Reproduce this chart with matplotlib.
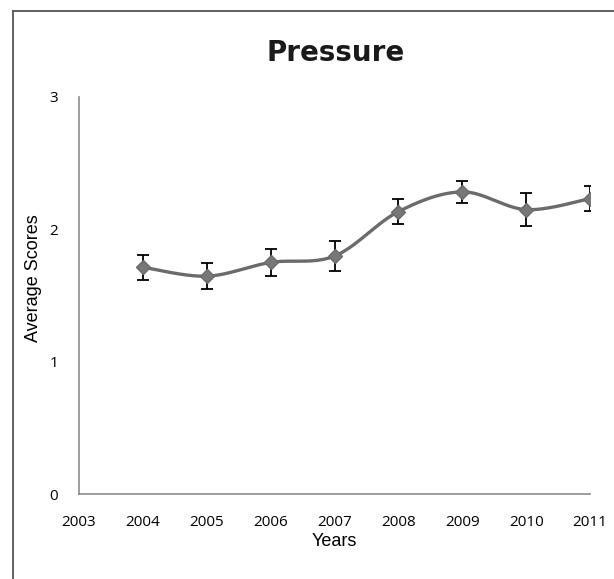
import matplotlib
matplotlib.use("Agg")
import matplotlib.pyplot as plt
import numpy as np
from matplotlib.lines import Line2D

years = [2004, 2005, 2006, 2007, 2008, 2009, 2010, 2011]
avg_scores = [1.714, 1.646, 1.750, 1.798, 2.134, 2.283, 2.149, 2.232]
std_err = [0.095, 0.100, 0.100, 0.113, 0.095, 0.085, 0.122, 0.096]
x_ticks = [2003, 2004, 2005, 2006, 2007, 2008, 2009, 2010, 2011]
y_ticks = [0, 1, 2, 3]


def smooth_curve(xs, ys, steps=40):
    # Catmull-Rom style smoothing (same as a spreadsheet "smoothed line")
    xs = np.asarray(xs, float)
    ys = np.asarray(ys, float)
    px = np.concatenate([[xs[0]], xs, [xs[-1]]])
    py = np.concatenate([[ys[0]], ys, [ys[-1]]])
    out_x, out_y = [], []
    t = np.linspace(0, 1, steps)
    for i in range(1, len(px) - 2):
        p0 = np.array([px[i], py[i]])
        p1 = np.array([px[i + 1], py[i + 1]])
        c0 = p0 + (p1 - np.array([px[i - 1], py[i - 1]])) / 6
        c1 = p1 - (np.array([px[i + 2], py[i + 2]]) - p0) / 6
        b = (((1 - t) ** 3)[:, None] * p0 + (3 * (1 - t) ** 2 * t)[:, None] * c0
             + (3 * (1 - t) * t ** 2)[:, None] * c1 + (t ** 3)[:, None] * p1)
        out_x.extend(b[:, 0])
        out_y.extend(b[:, 1])
    return out_x, out_y


fig = plt.figure(figsize=(6.14, 5.79), dpi=100)
ax = fig.add_axes([79 / 614, 1 - 494 / 579, (590 - 79) / 614, (494 - 97) / 579])

sx, sy = smooth_curve(years, avg_scores)
ax.plot(sx, sy, color="#6b6b6b", lw=2.4, solid_capstyle="round", zorder=2)
ax.errorbar(years, avg_scores, yerr=std_err, fmt="none", ecolor="black",
            elinewidth=1.3, capsize=4, capthick=1.3, zorder=3)
ax.plot(years, avg_scores, linestyle="none", marker="D", markersize=7,
        markerfacecolor="#777777", markeredgecolor="#6b6b6b", zorder=4)

ax.set_xlim(2003, 2011)
ax.set_ylim(0, 3)
ax.set_xticks(x_ticks)
ax.set_yticks(y_ticks)
ax.tick_params(length=0, labelsize=11, colors="black")
ax.tick_params(axis="x", pad=15)
ax.tick_params(axis="y", pad=15)
for lbl in ax.get_xticklabels() + ax.get_yticklabels():
    lbl.set_family("Open Sans")

for side in ("top", "right"):
    ax.spines[side].set_visible(False)
for side in ("left", "bottom"):
    ax.spines[side].set_color("#8c8c8c")
    ax.spines[side].set_linewidth(1.2)

ax.set_xlabel("Years", family="Liberation Sans", fontsize=13, va="center")
ax.xaxis.set_label_coords(0.5, (494 - 541.5) / 397)
ax.set_ylabel("Average Scores", family="Liberation Sans", fontsize=13, va="center")
ax.yaxis.set_label_coords((34 - 79) / 511, (494 - 278) / 397)

fig.text(336 / 614, 1 - 53 / 579, "Pressure", ha="center", va="center",
         family="DejaVu Sans", fontweight="heavy", fontsize=20, color="#1a1a1a")

# frame around the chart area (top and left edges)
fig.add_artist(Line2D([13 / 614, 13 / 614], [0, 1 - 11 / 579],
                      transform=fig.transFigure, color="#555555", lw=1.3))
fig.add_artist(Line2D([13 / 614, 1], [1 - 11 / 579, 1 - 11 / 579],
                      transform=fig.transFigure, color="#555555", lw=1.3))

fig.savefig("out.png", dpi=100)
